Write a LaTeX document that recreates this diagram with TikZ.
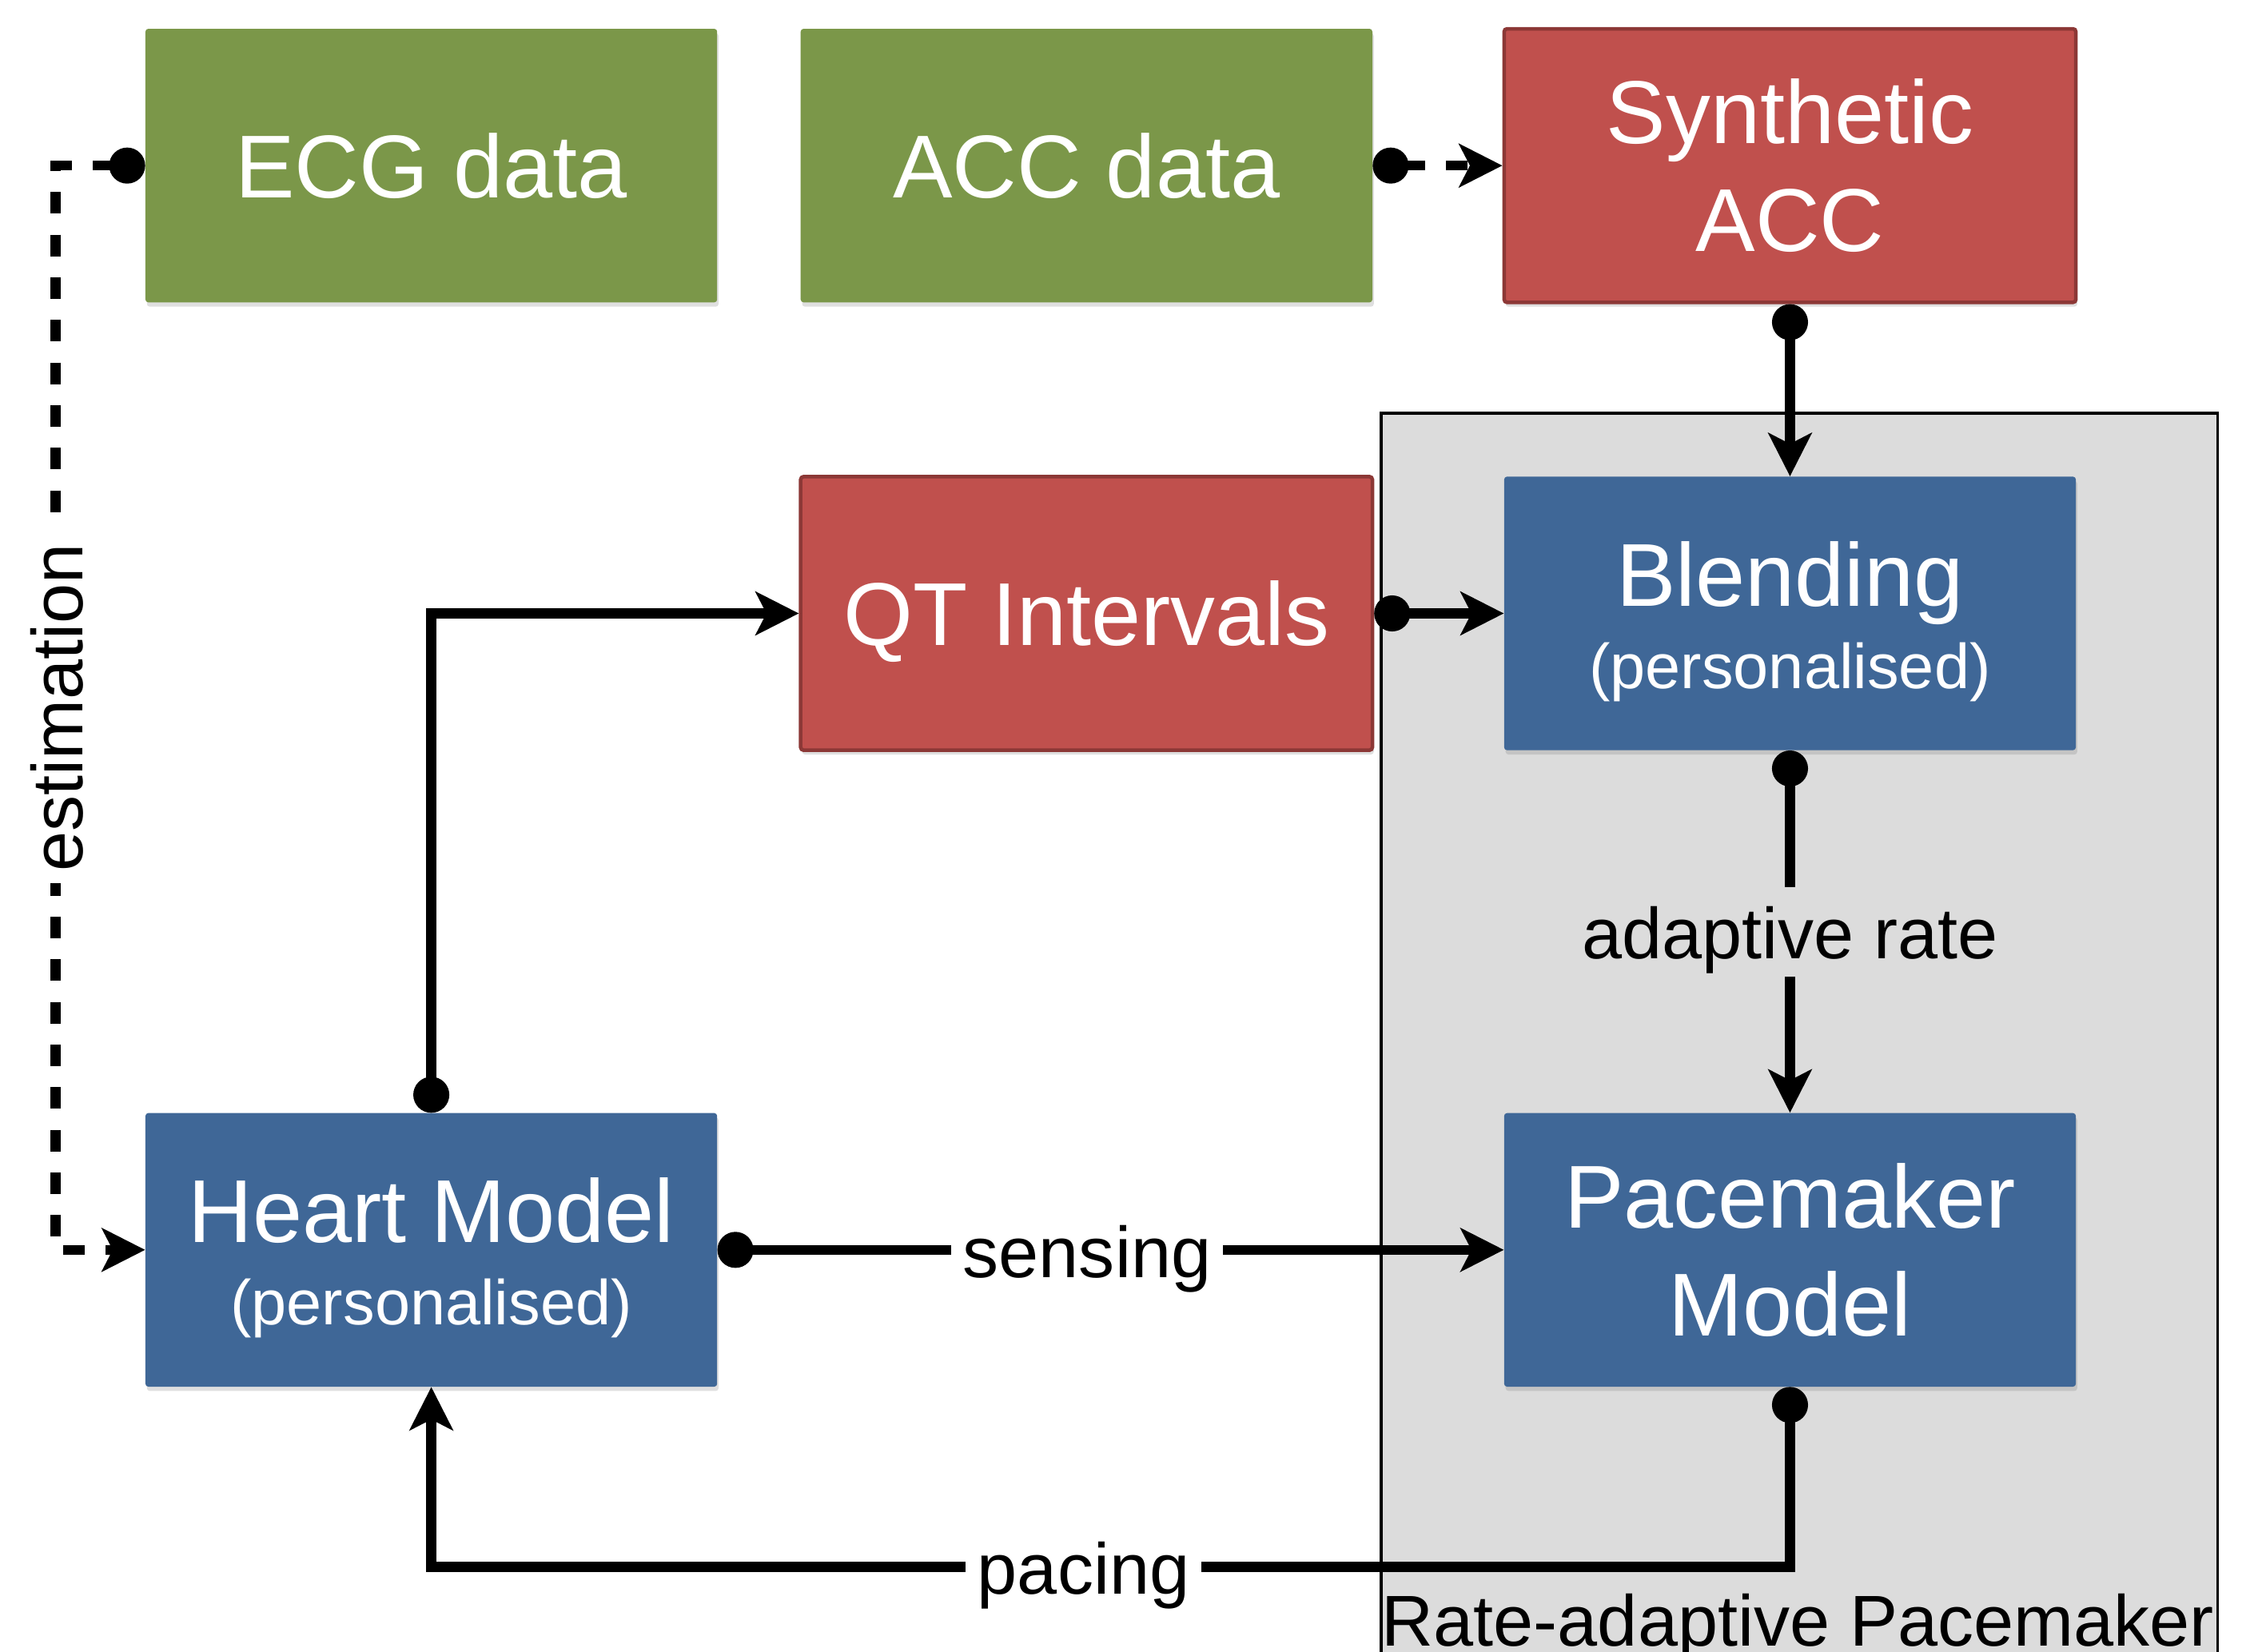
\documentclass[tikz,border=0pt]{standalone}
\usepackage{fontspec}
\setmainfont{Liberation Sans}
\usetikzlibrary{arrows.meta,shadows}
\definecolor{boxgreen}{RGB}{123,151,73}
\definecolor{boxred}{RGB}{192,80,77}
\definecolor{boxredline}{RGB}{140,56,54}
\definecolor{boxblue}{RGB}{63,103,151}
\definecolor{panelgray}{RGB}{220,220,220}
\begin{document}
\begin{tikzpicture}[x=1pt,y=-1pt,
  box/.style={minimum width=397pt,minimum height=190pt,inner sep=0pt,text=white,align=center,
    rounded corners=2pt,font=\fontsize{62}{75}\selectfont,
    drop shadow={shadow xshift=1pt,shadow yshift=-3pt,opacity=0.25}},
  oneline/.style={text height=44.4pt,text depth=0pt},
  greenbox/.style={box,fill=boxgreen},
  redbox/.style={box,fill=boxred,draw=boxredline,line width=2.5pt},
  bluebox/.style={box,fill=boxblue},
  conn/.style={line width=7pt,{Circle[length=25pt]}-{Stealth[length=30pt,width=30pt,inset=7.5pt]}},
  dconn/.style={conn,dash pattern=on 15pt off 14.6pt},
  lbl/.style={font=\fontsize{50}{60}\selectfont,fill=white,text height=40pt,text depth=2pt,
    inner xsep=8pt,inner ysep=10pt}
]
\useasboundingbox (0,0) rectangle (1568,1147);
\clip (0,0) rectangle (1568,1147);
% panel
\node[draw=black,line width=2pt,fill=panelgray,minimum width=581pt,minimum height=920pt,
  inner sep=0pt,anchor=north west] (panel) at (958,286) {};
\node[font=\fontsize{50}{60}\selectfont,anchor=base,inner sep=0pt] (panellbl) at (1248.5,1143) {Rate-adaptive Pacemaker};
% boxes
\node[greenbox,oneline] (ecg) at (299.5,115) {ECG data};
\node[greenbox,oneline] (acc) at (754.5,115) {ACC data};
\node[redbox] (syn) at (1243,115) {Synthetic\\ACC};
\node[redbox,oneline] (qt) at (754.5,426) {QT Intervals};
\node[bluebox] (blend) at (1243,426) {\rule{0pt}{56pt}Blending\\[-18pt]{\fontsize{44}{52}\selectfont (personalised)}};
\node[bluebox] (heart) at (299.5,868) {\rule{0pt}{56pt}Heart Model\\[-18pt]{\fontsize{44}{52}\selectfont (personalised)}};
\node[bluebox] (pace) at (1243,868) {Pacemaker\\Model};
% connectors
\coordinate (et) at (38.5,115);
\coordinate (eb) at (38.5,868);
\draw[dconn] (ecg.west) -- (et) -- node[lbl,rotate=90] (estl) {estimation} (eb) -- (heart.west);
\draw[dconn] (acc.east) -- (syn.west);
\draw[conn] (syn.south) -- (blend.north);
\draw[conn] (qt.east) -- (blend.west);
\draw[conn] (heart.north) |- (qt.west);
\draw[conn] (blend.south) -- node[lbl,fill=panelgray] (adl) {adaptive rate} (pace.north);
\draw[conn] (heart.east) -- node[lbl,pos=0.47] (senl) {sensing} (pace.west);
\coordinate (pb) at (1243,1088);
\draw[conn] (pace.south) -- (pb) -| node[lbl,pos=0.26] (pacl) {pacing} (heart.south);
\end{tikzpicture}
\end{document}
